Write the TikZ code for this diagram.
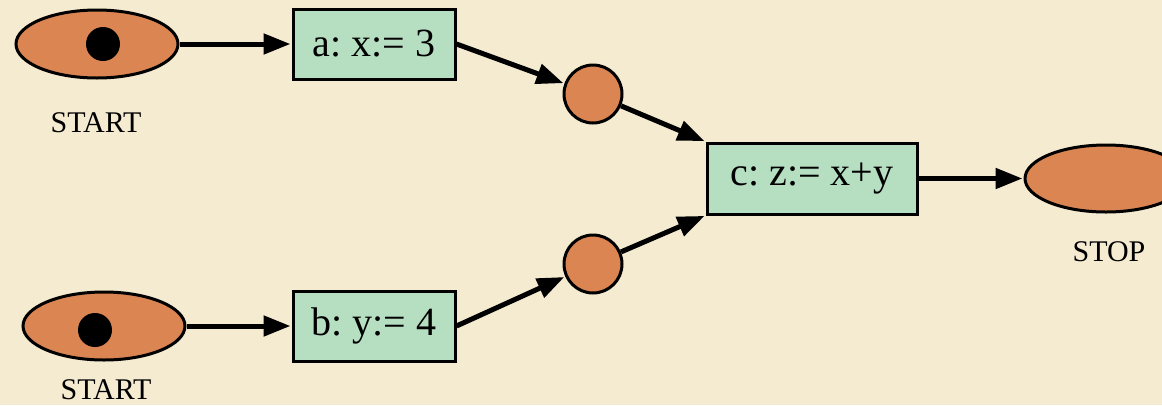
\documentclass[tikz,border=0pt]{standalone}
\usepackage{fontspec}
\setmainfont{Liberation Serif}
\usetikzlibrary{arrows.meta,shapes.geometric}
\definecolor{bgcol}{HTML}{F4EBD1}
\definecolor{orangefill}{HTML}{DB8553}
\definecolor{greenfill}{HTML}{B6DFC2}
\tikzset{
  startell/.style={ellipse, draw=black, line width=3pt, fill=orangefill, minimum width=162pt, minimum height=68pt, inner sep=0pt},
  placecirc/.style={circle, draw=black, line width=3pt, fill=orangefill, minimum size=58pt, inner sep=0pt},
  dotmark/.style={circle, fill=black, minimum size=34pt, inner sep=0pt},
  stmtbox/.style={rectangle, draw=black, line width=3pt, fill=greenfill, minimum height=70pt, inner sep=0pt, font=\fontsize{40pt}{44pt}\selectfont},
  lbl/.style={font=\fontsize{30pt}{34pt}\selectfont, inner sep=0pt},
  flow/.style={line width=5pt, -{Triangle[length=27pt,width=20pt]}, shorten >=1pt}
}
\begin{document}
\begin{tikzpicture}[x=1pt,y=-1pt]
\path[fill=bgcol] (0,0) rectangle (1162,405);
\useasboundingbox (0,0) rectangle (1162,405);
\begin{scope}
\clip (0,0) rectangle (1162,405);
\node[startell] (s1) at (97,44) {};
\node[dotmark] (d1) at (103,44) {};
\node[lbl] (l1) at (96,123) {START};
\node[startell] (s2) at (104,326) {};
\node[dotmark] (d2) at (95,330) {};
\node[lbl] (l2) at (106,390) {START};
\node[stmtbox, minimum width=162pt] (a) at (374,44) {a:\hspace{0.25em}x:=\hspace{0.25em}3};
\node[stmtbox, minimum width=162pt] (b) at (374,326) {b:\hspace{0.25em}y:=\hspace{0.25em}4};
\node[placecirc] (p1) at (593,94) {};
\node[placecirc] (p2) at (593,264) {};
\node[stmtbox, minimum width=210pt, minimum height=71pt] (c) at (812,178.5) {c:\hspace{0.25em}z:=\hspace{0.25em}x+y};
\node[startell, minimum height=67pt] (stop) at (1106,178.5) {};
\node[lbl] (l3) at (1109,252) {STOP};
\draw[flow] (s1.east) -- (a.west);
\draw[flow] (s2.east) -- (b.west);
\draw[flow] (a.east) -- (p1);
\draw[flow] (b.east) -- (p2);
\draw[flow] (p1) -- (c.north west);
\draw[flow] (p2) -- (c.south west);
\draw[flow] (c.east) -- (stop.west);
\end{scope}
\end{tikzpicture}
\end{document}
